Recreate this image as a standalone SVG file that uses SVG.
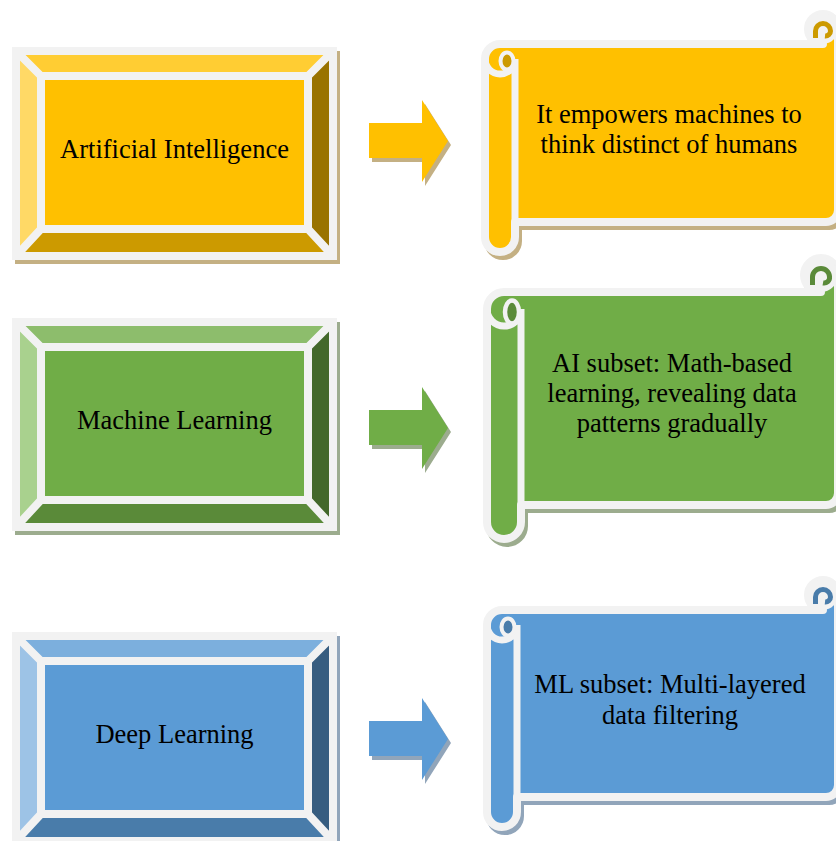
<svg xmlns="http://www.w3.org/2000/svg" width="836" height="841" viewBox="0 0 836 841">
  <style>
    .frame { fill: #f2f2f2; stroke: #f2f2f2; stroke-width: 8; }
    .rim { fill: none; stroke: #f2f2f2; stroke-width: 8; }
    .seam { fill: none; stroke: #f2f2f2; stroke-width: 7; }
    .label { font-family: "Liberation Serif", "Times New Roman", serif; font-size: 26.5px; text-anchor: middle; fill: #000; }
    .outline { stroke: #f2f2f2; stroke-width: 8; stroke-linejoin: round; }
    .shadow-path { stroke-width: 8; stroke-linejoin: round; }
    .gold-shadow { fill: #c4b083; stroke: #c4b083; }
    .green-shadow { fill: #9cac8e; stroke: #9cac8e; }
    .blue-shadow { fill: #91a5ba; stroke: #91a5ba; }
    .hook { fill: none; stroke-width: 5; }
  </style>

  <defs>
    <!-- bevel geometry shared by the three concept boxes -->
    <rect id="bevel-outer" x="16" y="51" width="317" height="205"/>
    <polygon id="bevel-top" points="16,51 333,51 308,76 41,76"/>
    <polygon id="bevel-bottom" points="16,256 333,256 308,229 41,229"/>
    <polygon id="bevel-left" points="16,51 41,76 41,229 16,256"/>
    <polygon id="bevel-right" points="333,51 308,76 308,229 333,256"/>
    <path id="bevel-seams" d="M16 51 L41 76 M333 51 L308 76 M16 256 L41 229 M333 256 L308 229"/>
    <rect id="bevel-face" x="41" y="76" width="267" height="153"/>
    <!-- right-pointing block arrow -->
    <path id="arrow" d="M369 123 L422 123 L422 100 L448 141 L422 182 L422 158 L369 158 Z"/>
  </defs>

  <!-- Artificial Intelligence -->
  <g id="node-ai">
    <rect x="15" y="51" width="325" height="213" fill="#c4b083"/>
    <use href="#bevel-outer" class="frame"/>
    <use href="#bevel-top" fill="#ffcd33"/>
    <use href="#bevel-bottom" fill="#cc9a00"/>
    <use href="#bevel-left" fill="#ffd966"/>
    <use href="#bevel-right" fill="#997300"/>
    <use href="#bevel-seams" class="rim"/>
    <use href="#bevel-outer" class="rim"/>
    <use href="#bevel-face" fill="#ffc000" class="rim" style="fill:#ffc000"/>
    <text x="174.5" y="158" class="label">Artificial Intelligence</text>
  </g>

  <!-- Machine Learning -->
  <g id="node-ml" transform="translate(0,271)">
    <rect x="15" y="51" width="325" height="213" fill="#9cac8e"/>
    <use href="#bevel-outer" class="frame"/>
    <use href="#bevel-top" fill="#8dbd6c"/>
    <use href="#bevel-bottom" fill="#5a8a39"/>
    <use href="#bevel-left" fill="#a9d18e"/>
    <use href="#bevel-right" fill="#43682b"/>
    <use href="#bevel-seams" class="rim"/>
    <use href="#bevel-outer" class="rim"/>
    <use href="#bevel-face" class="rim" style="fill:#70ad47"/>
    <text x="174.5" y="158" class="label">Machine Learning</text>
  </g>

  <!-- Deep Learning -->
  <g id="node-dl" transform="translate(0,585)">
    <rect x="15" y="51" width="325" height="213" fill="#91a5ba"/>
    <use href="#bevel-outer" class="frame"/>
    <use href="#bevel-top" fill="#7cafdd"/>
    <use href="#bevel-bottom" fill="#497caa"/>
    <use href="#bevel-left" fill="#9dc3e6"/>
    <use href="#bevel-right" fill="#375d80"/>
    <use href="#bevel-seams" class="rim"/>
    <use href="#bevel-outer" class="rim"/>
    <use href="#bevel-face" class="rim" style="fill:#5b9bd5"/>
    <text x="174.5" y="158" class="label">Deep Learning</text>
  </g>

  <!-- Scroll: AI description -->
  <g id="scroll-ai">
    <path class="shadow-path gold-shadow" transform="translate(3,4)" d="M485 59 A15 15 0 0 1 500 44 L823 44 A15 15 0 1 1 838 29 L838 210 A12 12 0 0 1 826 222 L515 222 L515 237 A15 15 0 0 1 485 237 Z"/>
    <path class="outline" fill="#ffc000" d="M485 59 A15 15 0 0 1 500 44 L823 44 A15 15 0 1 1 838 29 L838 210 A12 12 0 0 1 826 222 L515 222 L515 237 A15 15 0 0 1 485 237 Z"/>
    <circle cx="823" cy="29" r="15" fill="#f2f2f2"/>
    <path class="hook" stroke="#cc9a00" d="M815.5 38 L815.5 31 A7.5 7.5 0 0 1 830.5 31 A5 5 0 0 1 825 36"/>
    <path class="seam" d="M485 59 A15 15 0 0 0 515 59 M515 59 L515 222"/>
    <ellipse cx="507" cy="61" rx="6.5" ry="8.5" fill="#cc9a00" stroke="#f2f2f2" stroke-width="4"/>
    <text x="669" y="123" class="label">It empowers machines to</text>
    <text x="669" y="153" class="label">think distinct of humans</text>
  </g>

  <!-- Scroll: ML description -->
  <g id="scroll-ml">
    <path class="shadow-path green-shadow" transform="translate(3,4)" d="M487 309 A17 17 0 0 1 504 292 L821 292 A17 17 0 1 1 838 275 L838 493 A12 12 0 0 1 826 505 L521 505 L521 522 A17 17 0 0 1 487 522 Z"/>
    <path class="outline" fill="#70ad47" d="M487 309 A17 17 0 0 1 504 292 L821 292 A17 17 0 1 1 838 275 L838 493 A12 12 0 0 1 826 505 L521 505 L521 522 A17 17 0 0 1 487 522 Z"/>
    <circle cx="821" cy="275" r="17" fill="#f2f2f2"/>
    <path class="hook" stroke="#5a8a39" stroke-width="5.5" d="M812.5 285 L812.5 277 A8.5 8.5 0 0 1 829.5 277 A5.5 5.5 0 0 1 823 283"/>
    <path class="seam" d="M487 309 A17 17 0 0 0 521 309 M521 309 L521 505"/>
    <ellipse cx="512" cy="312" rx="7" ry="11.5" fill="#5a8a39" stroke="#f2f2f2" stroke-width="4.5"/>
    <text x="672" y="372" class="label">AI subset: Math-based</text>
    <text x="672" y="402" class="label">learning, revealing data</text>
    <text x="672" y="432" class="label">patterns gradually</text>
  </g>

  <!-- Scroll: DL description -->
  <g id="scroll-dl">
    <path class="shadow-path blue-shadow" transform="translate(3,4)" d="M487 625 A15 15 0 0 1 502 610 L823 610 A15 15 0 1 1 838 595 L838 785 A12 12 0 0 1 826 797 L517 797 L517 812 A15 15 0 0 1 487 812 Z"/>
    <path class="outline" fill="#5b9bd5" d="M487 625 A15 15 0 0 1 502 610 L823 610 A15 15 0 1 1 838 595 L838 785 A12 12 0 0 1 826 797 L517 797 L517 812 A15 15 0 0 1 487 812 Z"/>
    <circle cx="823" cy="595" r="15" fill="#f2f2f2"/>
    <path class="hook" stroke="#497caa" d="M815.5 604 L815.5 597 A7.5 7.5 0 0 1 830.5 597 A5 5 0 0 1 825 602"/>
    <path class="seam" d="M487 625 A15 15 0 0 0 517 625 M517 625 L517 797"/>
    <ellipse cx="508" cy="627" rx="6.5" ry="8.5" fill="#497caa" stroke="#f2f2f2" stroke-width="4"/>
    <text x="670" y="693" class="label">ML subset: Multi-layered</text>
    <text x="670" y="724" class="label">data filtering</text>
  </g>

  <!-- Arrows linking each concept to its description -->
  <g id="connectors">
    <use href="#arrow" transform="translate(3,4)" fill="#c4b083"/>
    <use href="#arrow" fill="#ffc000"/>
    <use href="#arrow" transform="translate(3,291)" fill="#9cac8e"/>
    <use href="#arrow" transform="translate(0,287)" fill="#70ad47"/>
    <use href="#arrow" transform="translate(3,602)" fill="#91a5ba"/>
    <use href="#arrow" transform="translate(0,598)" fill="#5b9bd5"/>
  </g>
</svg>
